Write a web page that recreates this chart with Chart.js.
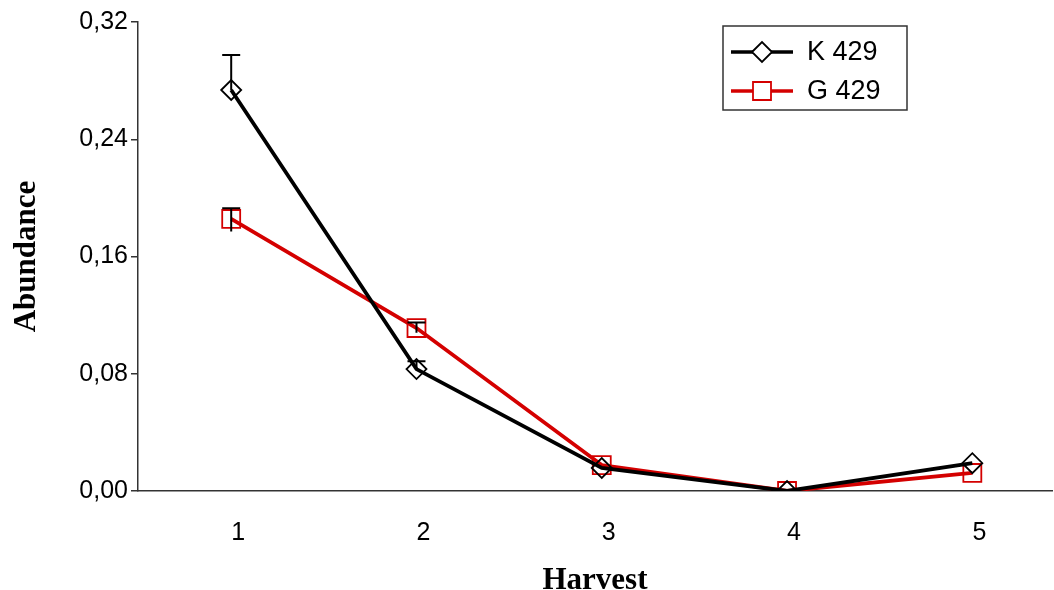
<!DOCTYPE html>
<html>
<head>
<meta charset="utf-8">
<script src="https://cdn.jsdelivr.net/npm/chart.js@4.4.1/dist/chart.umd.min.js"></script>
<style>
  html, body { margin: 0; padding: 0; background: #fff; }
  #wrap { width: 1054px; height: 590px; }
</style>
</head>
<body>
<div id="wrap"><canvas id="chart" width="1054" height="590"></canvas></div>
<script>
// data
const harvests = [1, 2, 3, 4, 5];
const k429 = [0.2736, 0.0832, 0.0157, 0.0, 0.0190];
const g429 = [0.1856, 0.1112, 0.0177, 0.0, 0.0123];
// error bar ends (top / bottom), null = none visible
const k429ErrTop = [0.2975, 0.0885, null, null, null];
const g429ErrTop = [0.1930, 0.1150, null, null, null];
const g429ErrLow = [0.1770, 0.1080, null, null, null];
const yTicks = [0, 0.08, 0.16, 0.24, 0.32];

const RED = '#d40000';

// error bars, drawn through the scales
const errorBars = {
  id: 'errorBars',
  afterDatasetsDraw(chart) {
    const ctx = chart.ctx;
    const xs = chart.scales.x, ys = chart.scales.y;
    ctx.save();
    ctx.strokeStyle = '#000';
    ctx.lineWidth = 2;
    const cap = 9;
    harvests.forEach((h, i) => {
      const x = xs.getPixelForValue(h);
      if (k429ErrTop[i] != null) {
        const y0 = ys.getPixelForValue(k429[i]);
        const y1 = ys.getPixelForValue(k429ErrTop[i]);
        ctx.beginPath();
        ctx.moveTo(x, y0); ctx.lineTo(x, y1);
        ctx.moveTo(x - cap, y1); ctx.lineTo(x + cap, y1);
        ctx.stroke();
      }
      if (g429ErrTop[i] != null) {
        const y1 = ys.getPixelForValue(g429ErrTop[i]);
        const y2 = ys.getPixelForValue(g429ErrLow[i]);
        ctx.beginPath();
        ctx.moveTo(x, y2); ctx.lineTo(x, y1);
        ctx.moveTo(x - cap, y1); ctx.lineTo(x + cap, y1);
        ctx.stroke();
      }
    });
    ctx.restore();
  }
};

// boxed legend with line + marker, like the original
const boxLegend = {
  id: 'boxLegend',
  afterDraw(chart) {
    const ctx = chart.ctx;
    ctx.save();
    ctx.strokeStyle = '#333';
    ctx.lineWidth = 1.5;
    ctx.strokeRect(723, 26, 184, 84);
    const rows = [
      { label: 'K 429', color: '#000', y: 52, shape: 'diamond' },
      { label: 'G 429', color: RED, y: 91, shape: 'square' }
    ];
    rows.forEach(r => {
      ctx.strokeStyle = r.color;
      ctx.lineWidth = 3.5;
      ctx.beginPath();
      ctx.moveTo(731, r.y); ctx.lineTo(793, r.y);
      ctx.stroke();
      ctx.fillStyle = '#fff';
      ctx.lineWidth = 1.8;
      ctx.beginPath();
      if (r.shape === 'diamond') {
        ctx.moveTo(762 - 10, r.y); ctx.lineTo(762, r.y - 10);
        ctx.lineTo(762 + 10, r.y); ctx.lineTo(762, r.y + 10);
        ctx.closePath();
      } else {
        ctx.rect(762 - 9, r.y - 9, 18, 18);
      }
      ctx.fill();
      ctx.stroke();
      ctx.fillStyle = '#000';
      ctx.font = '27px "Liberation Sans", Arial, sans-serif';
      ctx.textBaseline = 'middle';
      ctx.fillText(r.label, 807, r.y + 1);
    });
    ctx.restore();
  }
};

new Chart(document.getElementById('chart'), {
  type: 'line',
  data: {
    datasets: [
      {
        label: 'K 429',
        data: harvests.map((h, i) => ({ x: h, y: k429[i] })),
        borderColor: '#000',
        borderWidth: 3.8,
        pointStyle: 'rectRot',
        pointRadius: 10,
        pointBorderWidth: 1.8,
        pointBackgroundColor: 'rgba(255,255,255,0)',
        pointBorderColor: '#000',
        tension: 0
      },
      {
        label: 'G 429',
        data: harvests.map((h, i) => ({ x: h, y: g429[i] })),
        borderColor: RED,
        borderWidth: 3.8,
        pointStyle: 'rect',
        pointRadius: 12.7,
        pointBorderWidth: 1.8,
        pointBackgroundColor: 'rgba(255,255,255,0)',
        pointBorderColor: RED,
        tension: 0
      }
    ]
  },
  options: {
    responsive: false,
    animation: false,
    layout: { autoPadding: false, padding: { top: 22, right: 2, left: 0, bottom: 0 } },
    plugins: {
      legend: { display: false },
      tooltip: { enabled: false }
    },
    scales: {
      x: {
        type: 'linear',
        min: 0.497,
        max: 5.43,
        afterBuildTicks: axis => { axis.ticks = harvests.map(v => ({ value: v })); },
        afterFit: axis => { axis.height = 99; axis.paddingLeft = 0; axis.paddingRight = 0; },
        grid: { display: false, drawTicks: false },
        border: { display: true, color: '#333', width: 1.5 },
        ticks: {
          color: '#000',
          padding: 27,
          labelOffset: 7,
          font: { family: '"Liberation Sans", Arial, sans-serif', size: 25 },
          callback: v => String(v)
        },
        title: {
          display: true,
          text: 'Harvest',
          color: '#000',
          padding: { top: -10, bottom: -10 },
          font: { family: '"Liberation Serif", "Times New Roman", serif', size: 31, weight: 'bold' }
        }
      },
      y: {
        min: 0,
        max: 0.32,
        afterBuildTicks: axis => { axis.ticks = yTicks.map(v => ({ value: v })); },
        afterFit: axis => { axis.width = 138; },
        grid: { drawOnChartArea: false, drawTicks: true, tickLength: 7, color: '#333', lineWidth: 1.5 },
        border: { display: true, color: '#333', width: 1.5 },
        ticks: {
          color: '#000',
          padding: 3,
          font: { family: '"Liberation Sans", Arial, sans-serif', size: 25 },
          callback: v => v.toFixed(2).replace('.', ',')
        },
        title: {
          display: true,
          text: 'Abundance',
          color: '#000',
          padding: { top: 8, bottom: 0 },
          font: { family: '"Liberation Serif", "Times New Roman", serif', size: 31, weight: 'bold' }
        }
      }
    }
  },
  plugins: [errorBars, boxLegend]
});
</script>
</body>
</html>
